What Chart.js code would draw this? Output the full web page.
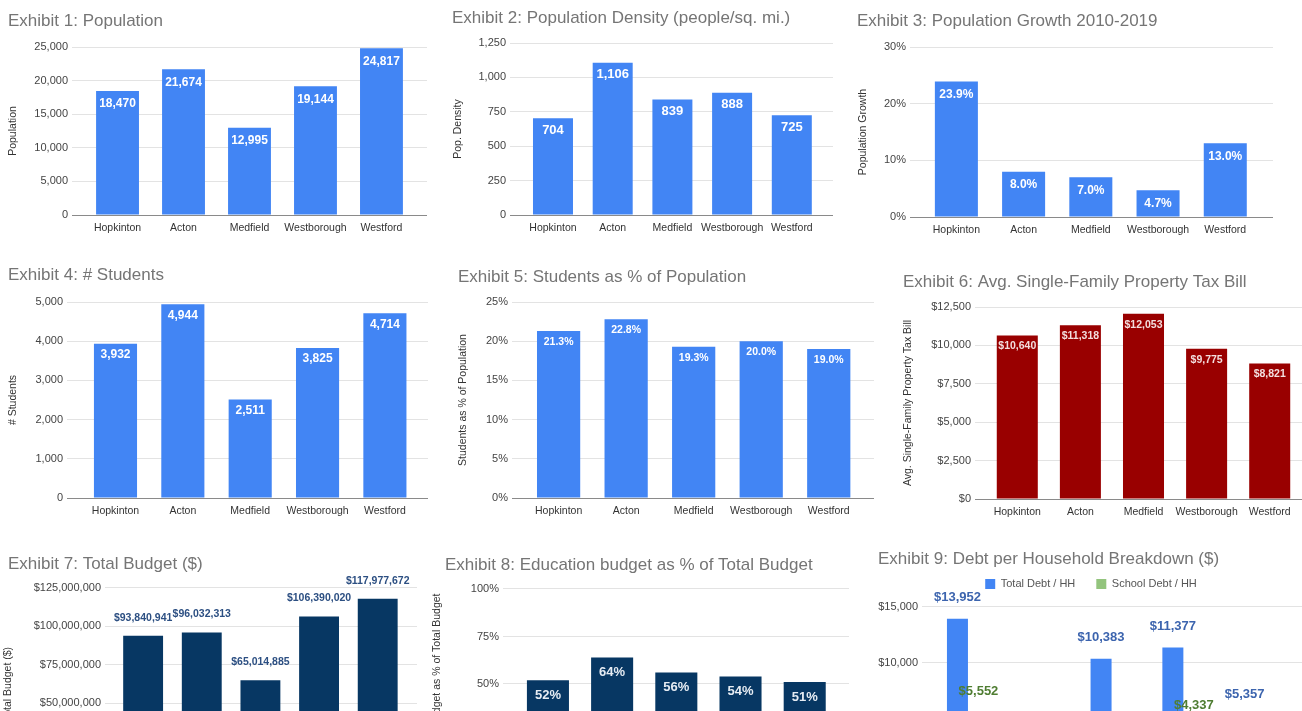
<!DOCTYPE html>
<html>
<head>
<meta charset="utf-8">
<script src="https://cdn.jsdelivr.net/npm/chart.js@4"></script>
<style>
  html, body { margin: 0; padding: 0; background: #fff; overflow: hidden; }
  body { width: 1302px; height: 711px; position: relative; }
  canvas { position: absolute; }
</style>
</head>
<body>
<canvas id="c1"></canvas>
<canvas id="c2"></canvas>
<canvas id="c3"></canvas>
<canvas id="c4"></canvas>
<canvas id="c5"></canvas>
<canvas id="c6"></canvas>
<canvas id="c7"></canvas>
<canvas id="c8"></canvas>
<canvas id="c9"></canvas>
<script>
// towns compared in every exhibit
const towns = ['Hopkinton', 'Acton', 'Medfield', 'Westborough', 'Westford'];

const population   = [18470, 21674, 12995, 19144, 24817];
const density      = [704, 1106, 839, 888, 725];
const growthPct    = [23.9, 8.0, 7.0, 4.7, 13.0];
const students     = [3932, 4944, 2511, 3825, 4714];
const studentPct   = [21.3, 22.8, 19.3, 20.0, 19.0];
const taxBill      = [10640, 11318, 12053, 9775, 8821];
const totalBudget  = [93840941, 96032313, 65014885, 106390020, 117977672];
const eduPct       = [52, 64, 56, 54, 51];
// Acton / Medfield / Westford school values are cut off in the picture (estimated)
const totalDebtHH  = [13952, 3000, 10383, 11377, 5357];
const schoolDebtHH = [5552, 2100, 3100, 4337, 2600];

const FONT = "'Liberation Sans', Arial, sans-serif";
const BLUE = '#4285f4';
const NAVY = '#073763';

const num  = v => v.toLocaleString('en-US');
const usd  = v => '$' + v.toLocaleString('en-US');
const pct  = v => v + '%';
const pct1 = v => v.toFixed(1) + '%';

// bar value labels (no datalabels plugin available)
function labelPlugin(c) {
  return {
    id: 'valueLabels',
    afterDatasetsDraw(chart) {
      const ctx = chart.ctx;
      ctx.save();
      ctx.font = 'bold ' + c.labelSize + 'px ' + FONT;
      ctx.textAlign = 'center';
      ctx.textBaseline = 'middle';
      chart.data.datasets.forEach((ds, k) => {
        ctx.fillStyle = c.labelColors[k];
        chart.getDatasetMeta(k).data.forEach((bar, i) => {
          ctx.fillText(c.labelFmt(ds.data[i].y), bar.x, bar.y + c.labelOffset);
        });
      });
      ctx.restore();
    }
  };
}

// extra space under the legend
function legendGap(gap) {
  return {
    id: 'legendGap',
    beforeLayout(chart) {
      const lg = chart.legend;
      if (lg && !lg._gapped) {
        const fit = lg.fit;
        lg.fit = function () { fit.call(this); this.height += gap; };
        lg._gapped = true;
      }
    }
  };
}

function exhibit(id, g, c) {
  const T = Math.round(g.titleY - 12.2);
  const cl = g.left - 20;             // canvas a bit wider so the axis title is not cut
  const W = g.right - cl;
  const H = g.bottom - T + 26;
  const cv = document.getElementById(id);
  cv.style.left = cl + 'px';
  cv.style.top = T + 'px';
  cv.width = W;
  cv.height = H;
  const padTop = g.titleY - 10.2 - T;
  const below = g.legendTop !== undefined ? g.legendTop : g.top;
  const padBottom = below - (g.titleY + 10.2);

  const plugins = [labelPlugin(c)];
  if (c.legend) plugins.push(legendGap(g.legendGap));

  return new Chart(cv, {
    type: 'bar',
    data: {
      datasets: c.series.map(s => ({
        label: s.label,
        data: s.values.map((v, i) => ({ x: i, y: v })),
        backgroundColor: s.color,
        barPercentage: c.barPct,
        categoryPercentage: c.catPct || 1
      }))
    },
    options: {
      responsive: false,
      animation: false,
      layout: { padding: { left: g.left - cl, top: 0, right: 0, bottom: 0 } },
      plugins: {
        title: {
          display: true,
          text: c.title,
          align: 'start',
          color: '#757575',
          font: { family: FONT, size: 17, weight: 'normal' },
          padding: { top: padTop, bottom: padBottom }
        },
        legend: c.legend ? {
          display: true,
          position: 'top',
          align: 'center',
          labels: {
            boxWidth: 10,
            boxHeight: 10,
            padding: 21,
            color: '#555',
            font: { family: FONT, size: 11 }
          }
        } : { display: false },
        tooltip: { enabled: false }
      },
      scales: {
        x: {
          type: 'linear',
          offset: false,
          min: c.xMin,
          max: c.xMax,
          grid: { display: false, drawTicks: false, offset: false },
          border: { color: '#8a8a8a' },
          ticks: {
            stepSize: 1,
            includeBounds: false,
            autoSkip: false,
            maxRotation: 0,
            padding: 7,
            color: '#333',
            font: { family: FONT, size: 10.5 },
            callback: v => towns[v]
          },
          afterFit: s => { s.height = 26; }
        },
        y: {
          min: 0,
          max: c.yMax,
          grid: { color: '#e3e3e3', drawTicks: false },
          border: { display: false },
          ticks: {
            stepSize: c.yStep,
            padding: 4,
            color: '#444',
            font: { family: FONT, size: 11 },
            callback: c.tickFmt
          },
          title: c.yTitle ? {
            display: true,
            text: c.yTitle,
            color: '#333',
            font: { family: FONT, size: 10.5 },
            padding: { top: g.yTitlePad, bottom: 0 }
          } : { display: false },
          afterFit: s => { s.width = g.axisLeft - g.left; }
        }
      }
    },
    plugins: plugins
  });
}

exhibit('c1',
  { left: 8, titleY: 21, top: 47, bottom: 215, axisLeft: 72, right: 427, yTitlePad: -1.3 },
  { title: 'Exhibit 1: Population', yTitle: 'Population', yMax: 25000, yStep: 5000, tickFmt: num,
    series: [{ label: 'Population', values: population, color: BLUE }],
    xMin: -0.69, xMax: 4.69, barPct: 0.65,
    labelFmt: num, labelSize: 12, labelOffset: 13, labelColors: ['#ffffff'] });

exhibit('c2',
  { left: 452, titleY: 18.5, top: 43, bottom: 215, axisLeft: 510, right: 833, yTitlePad: -0.3 },
  { title: 'Exhibit 2: Population Density (people/sq. mi.)', yTitle: 'Pop. Density', yMax: 1250, yStep: 250, tickFmt: num,
    series: [{ label: 'Pop. Density', values: density, color: BLUE }],
    xMin: -0.72, xMax: 4.69, barPct: 0.67,
    labelFmt: num, labelSize: 13, labelOffset: 12, labelColors: ['#ffffff'] });

exhibit('c3',
  { left: 857, titleY: 21.5, top: 47, bottom: 217, axisLeft: 910, right: 1273, yTitlePad: -0.3 },
  { title: 'Exhibit 3: Population Growth 2010-2019', yTitle: 'Population Growth', yMax: 30, yStep: 10, tickFmt: pct,
    series: [{ label: 'Population Growth', values: growthPct, color: BLUE }],
    xMin: -0.69, xMax: 4.71, barPct: 0.64,
    labelFmt: pct1, labelSize: 12, labelOffset: 13, labelColors: ['#ffffff'] });

exhibit('c4',
  { left: 8, titleY: 275.5, top: 302, bottom: 498, axisLeft: 67, right: 428, yTitlePad: -1.3 },
  { title: 'Exhibit 4: # Students', yTitle: '# Students', yMax: 5000, yStep: 1000, tickFmt: num,
    series: [{ label: '# Students', values: students, color: BLUE }],
    xMin: -0.72, xMax: 4.64, barPct: 0.64,
    labelFmt: num, labelSize: 12, labelOffset: 11, labelColors: ['#ffffff'] });

exhibit('c5',
  { left: 458, titleY: 277, top: 302, bottom: 498, axisLeft: 512, right: 874, yTitlePad: -1.3 },
  { title: 'Exhibit 5: Students as % of Population', yTitle: 'Students as % of Population', yMax: 25, yStep: 5, tickFmt: pct,
    series: [{ label: 'Students as % of Population', values: studentPct, color: BLUE }],
    xMin: -0.69, xMax: 4.67, barPct: 0.64,
    labelFmt: pct1, labelSize: 10.5, labelOffset: 11, labelColors: ['#ffffff'] });

exhibit('c6',
  { left: 903, titleY: 282, top: 307, bottom: 499, axisLeft: 975, right: 1312, yTitlePad: -1.3 },
  { title: 'Exhibit 6: Avg. Single-Family Property Tax Bill', yTitle: 'Avg. Single-Family Property Tax Bill', yMax: 12500, yStep: 2500, tickFmt: usd,
    series: [{ label: 'Avg. Single-Family Property Tax Bill', values: taxBill, color: '#990000' }],
    xMin: -0.67, xMax: 4.67, barPct: 0.65,
    labelFmt: usd, labelSize: 10.5, labelOffset: 11, labelColors: ['#f3dede'] });

exhibit('c7',
  { left: 8, titleY: 564, top: 588, bottom: 780, axisLeft: 105, right: 417, yTitlePad: -6.3 },
  { title: 'Exhibit 7: Total Budget ($)', yTitle: 'Total Budget ($)', yMax: 125000000, yStep: 25000000, tickFmt: usd,
    series: [{ label: 'Total Budget ($)', values: totalBudget, color: NAVY }],
    xMin: -0.65, xMax: 4.67, barPct: 0.68,
    labelFmt: usd, labelSize: 10.5, labelOffset: -18, labelColors: ['#2c4f82'] });

exhibit('c8',
  { left: 445, titleY: 565, top: 589, bottom: 779, axisLeft: 503, right: 849, yTitlePad: -14.3 },
  { title: 'Exhibit 8: Education budget as % of Total Budget', yTitle: 'Education budget as % of Total Budget', yMax: 100, yStep: 25, tickFmt: pct,
    series: [{ label: 'Education budget as % of Total Budget', values: eduPct, color: NAVY }],
    xMin: -0.70, xMax: 4.69, barPct: 0.655,
    labelFmt: pct, labelSize: 13, labelOffset: 15, labelColors: ['#e6ecf3'] });

exhibit('c9',
  { left: 878, titleY: 559.5, top: 607, bottom: 775, axisLeft: 922, right: 1304, legendTop: 557.5, legendGap: 7.5 },
  { title: 'Exhibit 9: Debt per Household Breakdown ($)', yMax: 15000, yStep: 5000, tickFmt: usd, legend: true,
    series: [
      { label: 'Total Debt / HH', values: totalDebtHH, color: BLUE },
      { label: 'School Debt / HH', values: schoolDebtHH, color: '#93c47d' }
    ],
    xMin: -0.64, xMax: 4.68, barPct: 1, catPct: 0.585,
    labelFmt: usd, labelSize: 13, labelOffset: -21, labelColors: ['#3c64ae', '#4f7d32'] });
</script>
</body>
</html>
